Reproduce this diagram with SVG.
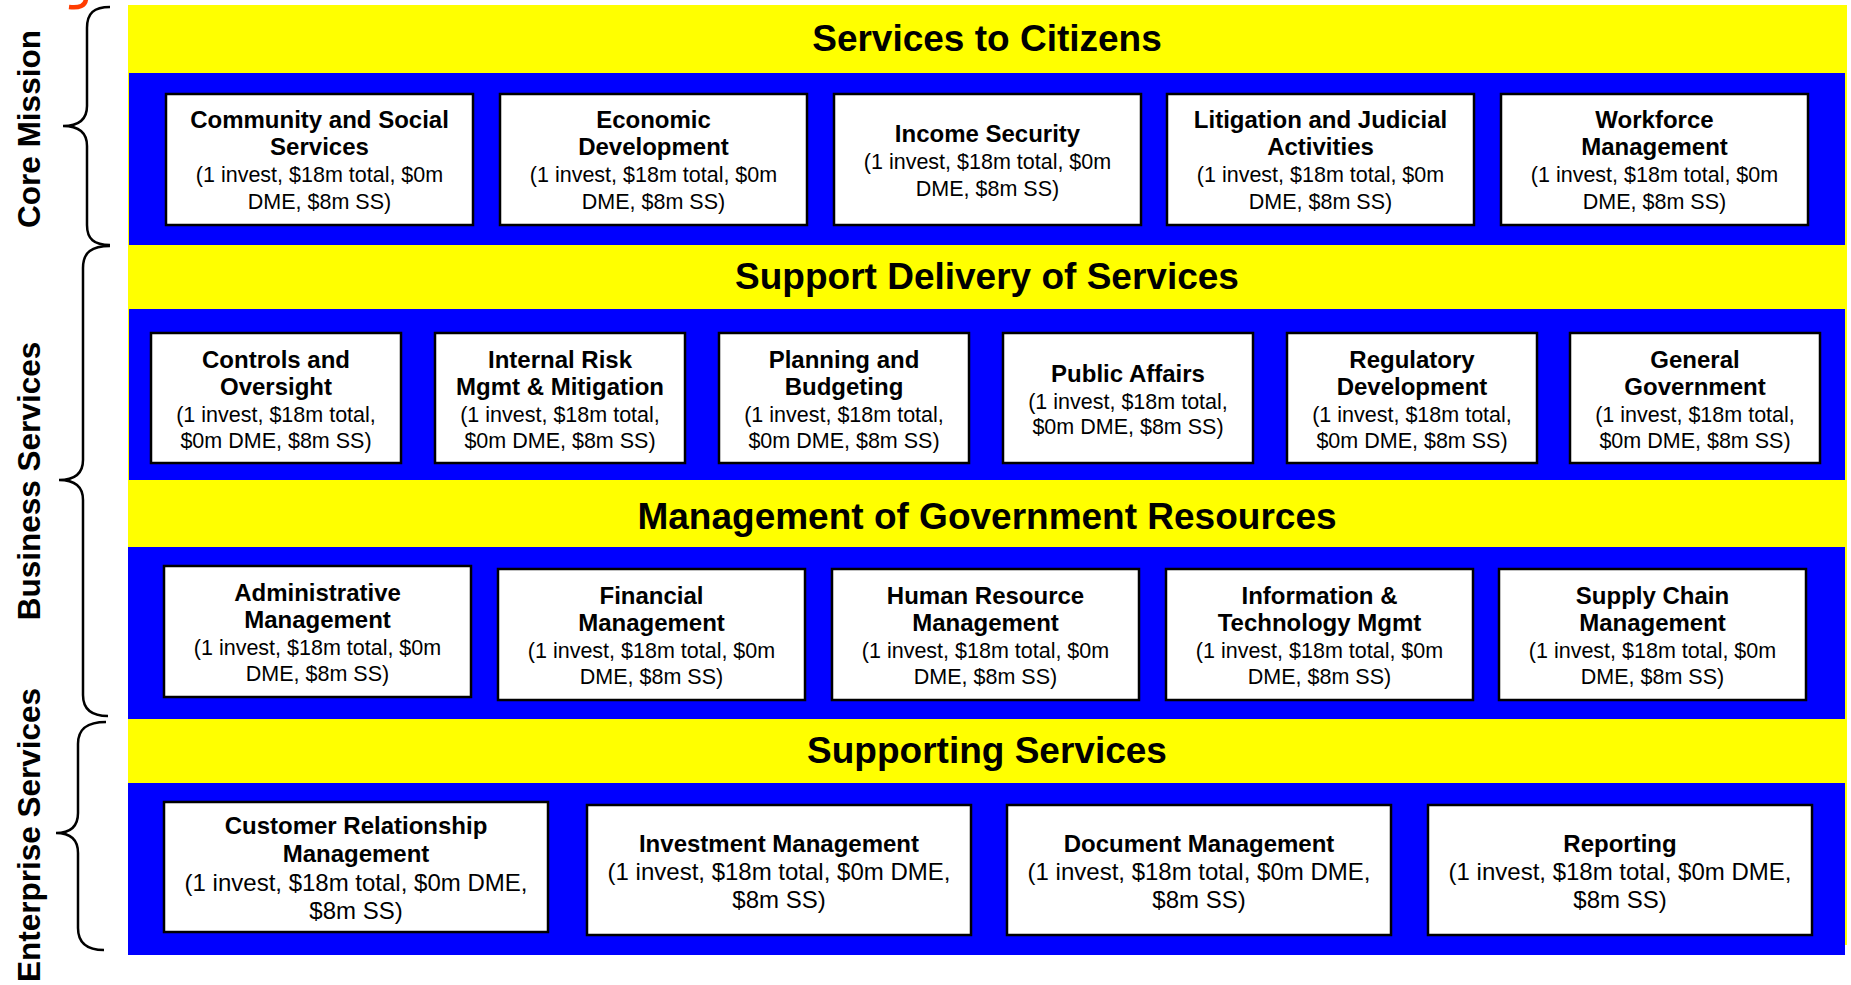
<svg xmlns="http://www.w3.org/2000/svg" width="1851" height="985" viewBox="0 0 1851 985">
<style>
.yl{fill:#ffff00}
.bl{fill:#0000ff}
.bx{fill:#ffffff;stroke:#000000;stroke-width:2.5}
.t{font-family:"Liberation Sans",Arial,sans-serif;fill:#000;text-anchor:middle}
.h{font-size:37px;font-weight:bold}
.b{font-size:24px;font-weight:bold}
.r{font-size:21.5px}
.r4{font-size:24px}
.side{font-family:"Liberation Sans",Arial,sans-serif;font-size:31.5px;font-weight:bold;fill:#000;text-anchor:middle}
.brace{fill:none;stroke:#000;stroke-width:2.5}
</style>
<rect x="0" y="0" width="1851" height="985" fill="#ffffff"/>
<path d="M86 -1 Q85 9 69 7" fill="none" stroke="#ff3c00" stroke-width="4.5"/>
<g id="bands">
<rect class="yl" x="128" y="5" width="1719" height="940"/>
<rect class="bl" x="129" y="73" width="1716" height="172"/>
<rect class="bl" x="129" y="309" width="1716" height="171"/>
<rect class="bl" x="128" y="547" width="1717" height="172"/>
<rect class="bl" x="128" y="783" width="1717" height="172"/>
<text class="t h" x="987" y="51">Services to Citizens</text>
<text class="t h" x="987" y="289">Support Delivery of Services</text>
<text class="t h" x="987" y="529">Management of Government Resources</text>
<text class="t h" x="987" y="763">Supporting Services</text>
</g>
<g id="side-labels">
<path class="brace" d="M110 7 C94 7 87 13 87 28 L87 106 C87 118 80 126 63 126 C80 126 87 134 87 146 L87 225 C87 239 94 245 110 245"/>
<path class="brace" d="M110 246 C92 246 83 252 83 268 L83 460 C83 472 76 480 59 480 C76 480 83 488 83 500 L83 695 C83 710 92 716 108 716"/>
<path class="brace" d="M106 722 C88 722 78 728 78 744 L78 813 C78 825 72 833 56 833 C72 833 78 841 78 853 L78 928 C78 944 88 950 104 950"/>
<text class="side" transform="translate(40,129) rotate(-90)">Core Mission</text>
<text class="side" transform="translate(40,481) rotate(-90)">Business Services</text>
<text class="side" transform="translate(40,835) rotate(-90)">Enterprise Services</text>
</g>
<!-- Row 1 -->
<g id="n-community"><rect class="bx" x="166" y="94" width="307" height="131"/>
<text class="t b" x="319.5" y="128">Community and Social</text><text class="t b" x="319.5" y="155">Services</text>
<text class="t r" x="319.5" y="182">(1 invest, $18m total, $0m</text><text class="t r" x="319.5" y="209">DME, $8m SS)</text></g>
<g id="n-economic"><rect class="bx" x="500" y="94" width="307" height="131"/>
<text class="t b" x="653.5" y="128">Economic</text><text class="t b" x="653.5" y="155">Development</text>
<text class="t r" x="653.5" y="182">(1 invest, $18m total, $0m</text><text class="t r" x="653.5" y="209">DME, $8m SS)</text></g>
<g id="n-income"><rect class="bx" x="834" y="94" width="307" height="131"/>
<text class="t b" x="987.5" y="142">Income Security</text>
<text class="t r" x="987.5" y="169">(1 invest, $18m total, $0m</text><text class="t r" x="987.5" y="196">DME, $8m SS)</text></g>
<g id="n-litigation"><rect class="bx" x="1167" y="94" width="307" height="131"/>
<text class="t b" x="1320.5" y="128">Litigation and Judicial</text><text class="t b" x="1320.5" y="155">Activities</text>
<text class="t r" x="1320.5" y="182">(1 invest, $18m total, $0m</text><text class="t r" x="1320.5" y="209">DME, $8m SS)</text></g>
<g id="n-workforce"><rect class="bx" x="1501" y="94" width="307" height="131"/>
<text class="t b" x="1654.5" y="128">Workforce</text><text class="t b" x="1654.5" y="155">Management</text>
<text class="t r" x="1654.5" y="182">(1 invest, $18m total, $0m</text><text class="t r" x="1654.5" y="209">DME, $8m SS)</text></g>
<!-- Row 2 -->
<g id="n-controls"><rect class="bx" x="151" y="333" width="250" height="130"/>
<text class="t b" x="276" y="368">Controls and</text><text class="t b" x="276" y="395">Oversight</text>
<text class="t r" x="276" y="422">(1 invest, $18m total,</text><text class="t r" x="276" y="448">$0m DME, $8m SS)</text></g>
<g id="n-risk"><rect class="bx" x="435" y="333" width="250" height="130"/>
<text class="t b" x="560" y="368">Internal Risk</text><text class="t b" x="560" y="395">Mgmt &amp; Mitigation</text>
<text class="t r" x="560" y="422">(1 invest, $18m total,</text><text class="t r" x="560" y="448">$0m DME, $8m SS)</text></g>
<g id="n-planning"><rect class="bx" x="719" y="333" width="250" height="130"/>
<text class="t b" x="844" y="368">Planning and</text><text class="t b" x="844" y="395">Budgeting</text>
<text class="t r" x="844" y="422">(1 invest, $18m total,</text><text class="t r" x="844" y="448">$0m DME, $8m SS)</text></g>
<g id="n-public"><rect class="bx" x="1003" y="333" width="250" height="130"/>
<text class="t b" x="1128" y="382">Public Affairs</text>
<text class="t r" x="1128" y="409">(1 invest, $18m total,</text><text class="t r" x="1128" y="434">$0m DME, $8m SS)</text></g>
<g id="n-regulatory"><rect class="bx" x="1287" y="333" width="250" height="130"/>
<text class="t b" x="1412" y="368">Regulatory</text><text class="t b" x="1412" y="395">Development</text>
<text class="t r" x="1412" y="422">(1 invest, $18m total,</text><text class="t r" x="1412" y="448">$0m DME, $8m SS)</text></g>
<g id="n-general"><rect class="bx" x="1570" y="333" width="250" height="130"/>
<text class="t b" x="1695" y="368">General</text><text class="t b" x="1695" y="395">Government</text>
<text class="t r" x="1695" y="422">(1 invest, $18m total,</text><text class="t r" x="1695" y="448">$0m DME, $8m SS)</text></g>
<!-- Row 3 -->
<g id="n-admin"><rect class="bx" x="164" y="566" width="307" height="131"/>
<text class="t b" x="317.5" y="601">Administrative</text><text class="t b" x="317.5" y="628">Management</text>
<text class="t r" x="317.5" y="655">(1 invest, $18m total, $0m</text><text class="t r" x="317.5" y="681">DME, $8m SS)</text></g>
<g id="n-financial"><rect class="bx" x="498" y="569" width="307" height="131"/>
<text class="t b" x="651.5" y="604">Financial</text><text class="t b" x="651.5" y="631">Management</text>
<text class="t r" x="651.5" y="658">(1 invest, $18m total, $0m</text><text class="t r" x="651.5" y="684">DME, $8m SS)</text></g>
<g id="n-hr"><rect class="bx" x="832" y="569" width="307" height="131"/>
<text class="t b" x="985.5" y="604">Human Resource</text><text class="t b" x="985.5" y="631">Management</text>
<text class="t r" x="985.5" y="658">(1 invest, $18m total, $0m</text><text class="t r" x="985.5" y="684">DME, $8m SS)</text></g>
<g id="n-it"><rect class="bx" x="1166" y="569" width="307" height="131"/>
<text class="t b" x="1319.5" y="604">Information &amp;</text><text class="t b" x="1319.5" y="631">Technology Mgmt</text>
<text class="t r" x="1319.5" y="658">(1 invest, $18m total, $0m</text><text class="t r" x="1319.5" y="684">DME, $8m SS)</text></g>
<g id="n-supply"><rect class="bx" x="1499" y="569" width="307" height="131"/>
<text class="t b" x="1652.5" y="604">Supply Chain</text><text class="t b" x="1652.5" y="631">Management</text>
<text class="t r" x="1652.5" y="658">(1 invest, $18m total, $0m</text><text class="t r" x="1652.5" y="684">DME, $8m SS)</text></g>
<!-- Row 4 -->
<g id="n-crm"><rect class="bx" x="164" y="802" width="384" height="130"/>
<text class="t b" x="356" y="834">Customer Relationship</text><text class="t b" x="356" y="862">Management</text>
<text class="t r4" x="356" y="891">(1 invest, $18m total, $0m DME,</text><text class="t r4" x="356" y="919">$8m SS)</text></g>
<g id="n-investment"><rect class="bx" x="587" y="805" width="384" height="130"/>
<text class="t b" x="779" y="852">Investment Management</text>
<text class="t r4" x="779" y="880">(1 invest, $18m total, $0m DME,</text><text class="t r4" x="779" y="908">$8m SS)</text></g>
<g id="n-document"><rect class="bx" x="1007" y="805" width="384" height="130"/>
<text class="t b" x="1199" y="852">Document Management</text>
<text class="t r4" x="1199" y="880">(1 invest, $18m total, $0m DME,</text><text class="t r4" x="1199" y="908">$8m SS)</text></g>
<g id="n-reporting"><rect class="bx" x="1428" y="805" width="384" height="130"/>
<text class="t b" x="1620" y="852">Reporting</text>
<text class="t r4" x="1620" y="880">(1 invest, $18m total, $0m DME,</text><text class="t r4" x="1620" y="908">$8m SS)</text></g>
<g id="connectors"></g>
</svg>
